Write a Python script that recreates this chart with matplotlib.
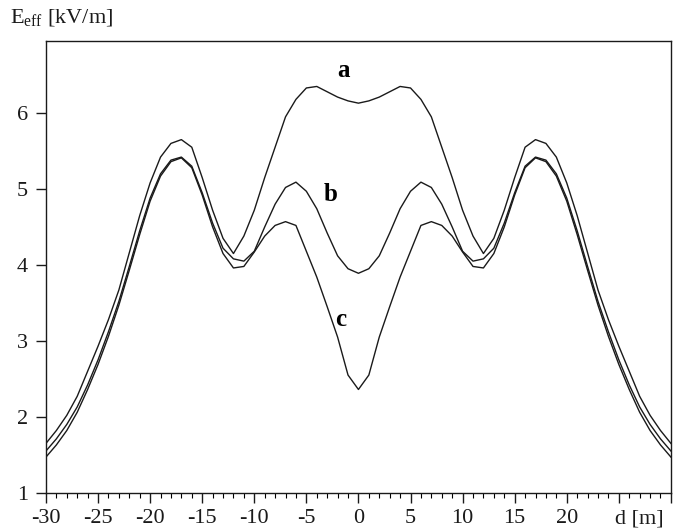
import numpy as np
import matplotlib
matplotlib.use('Agg')
import matplotlib.pyplot as plt
from matplotlib.ticker import MultipleLocator

plt.rcParams['font.family'] = 'Liberation Serif'
plt.rcParams['mathtext.fontset'] = 'custom'
plt.rcParams['mathtext.rm'] = 'Liberation Serif'

# distance from the line axis [m]
d = list(range(-30, 31))

# effective field strength [kV/m] for the three cases
e_a = [1.65, 1.82, 2.02, 2.27, 2.60, 2.93, 3.28, 3.67, 4.16, 4.65,
       5.08, 5.42, 5.60, 5.65, 5.55, 5.15, 4.72, 4.35, 4.15, 4.38,
       4.72, 5.15, 5.55, 5.95, 6.18, 6.33, 6.35, 6.28, 6.21, 6.16,
       6.13,
       6.16, 6.21, 6.28, 6.35, 6.33, 6.18, 5.95, 5.55, 5.15, 4.72,
       4.38, 4.15, 4.35, 4.72, 5.15, 5.55, 5.65, 5.60, 5.42, 5.08,
       4.65, 4.16, 3.67, 3.28, 2.93, 2.60, 2.27, 2.02, 1.82, 1.65]
e_b = [1.55, 1.71, 1.90, 2.13, 2.42, 2.75, 3.12, 3.52, 3.98, 4.45,
       4.88, 5.20, 5.38, 5.42, 5.30, 4.95, 4.55, 4.22, 4.08, 4.05,
       4.18, 4.50, 4.80, 5.02, 5.09, 4.97, 4.74, 4.42, 4.12, 3.95,
       3.89,
       3.95, 4.12, 4.42, 4.74, 4.97, 5.09, 5.02, 4.80, 4.50, 4.18,
       4.05, 4.08, 4.22, 4.55, 4.95, 5.30, 5.42, 5.38, 5.20, 4.88,
       4.45, 3.98, 3.52, 3.12, 2.75, 2.42, 2.13, 1.90, 1.71, 1.55]
e_c = [1.47, 1.63, 1.82, 2.06, 2.36, 2.69, 3.06, 3.47, 3.93, 4.40,
       4.84, 5.17, 5.36, 5.41, 5.28, 4.92, 4.50, 4.15, 3.96, 3.98,
       4.17, 4.38, 4.52, 4.57, 4.52, 4.18, 3.84, 3.45, 3.05, 2.55,
       2.36,
       2.55, 3.05, 3.45, 3.84, 4.18, 4.52, 4.57, 4.52, 4.38, 4.17,
       3.98, 3.96, 4.15, 4.50, 4.92, 5.28, 5.41, 5.36, 5.17, 4.84,
       4.40, 3.93, 3.47, 3.06, 2.69, 2.36, 2.06, 1.82, 1.63, 1.47]

x_ticks = [-30, -25, -20, -15, -10, -5, 0, 5, 10, 15, 20, 25, 30]
x_labels = ['-30', '-25', '-20', '-15', '-10', '-5', '0', '5', '10', '15', '20', '', '']
y_ticks = [1, 2, 3, 4, 5, 6]

fig = plt.figure(figsize=(6.86, 5.31), dpi=100)
ax = fig.add_axes([0.067, 0.072, 0.911, 0.851])

for e in (e_a, e_b, e_c):
    ax.plot(d, e, color='#1a1a1a', lw=1.0)

ax.text(-1.4, 6.56, 'a', fontsize=18, fontweight='bold', ha='center', va='center')
ax.text(-2.7, 4.93, 'b', fontsize=18, fontweight='bold', ha='center', va='center')
ax.text(-1.7, 3.28, 'c', fontsize=18, fontweight='bold', ha='center', va='center')

ax.set_xlim(-30, 30)
ax.set_ylim(1, 6.95)
ax.set_xticks(x_ticks)
ax.set_xticklabels(x_labels)
ax.xaxis.set_minor_locator(MultipleLocator(1))
ax.set_yticks(y_ticks)
ax.tick_params(axis='both', which='major', direction='out', length=7, width=1.0,
               labelsize=16, colors='#1a1a1a')
ax.tick_params(axis='x', which='minor', direction='out', length=3.5, width=0.8)
ax.tick_params(axis='x', pad=5)
ax.tick_params(axis='y', pad=6)

for s in ax.spines.values():
    s.set_linewidth(1.0)
    s.set_color('#1a1a1a')

fig.text(0.015, 0.945, r'E$_{\mathrm{eff}}$ [kV/m]', fontsize=16, ha='left', va='bottom',
         color='#1a1a1a')
ax.annotate('d [m]', xy=(27, 0), xycoords=('data', 'axes fraction'),
            xytext=(0, -12), textcoords='offset points', fontsize=16,
            ha='center', va='top', color='#1a1a1a')

fig.savefig('out.png', dpi=100)
